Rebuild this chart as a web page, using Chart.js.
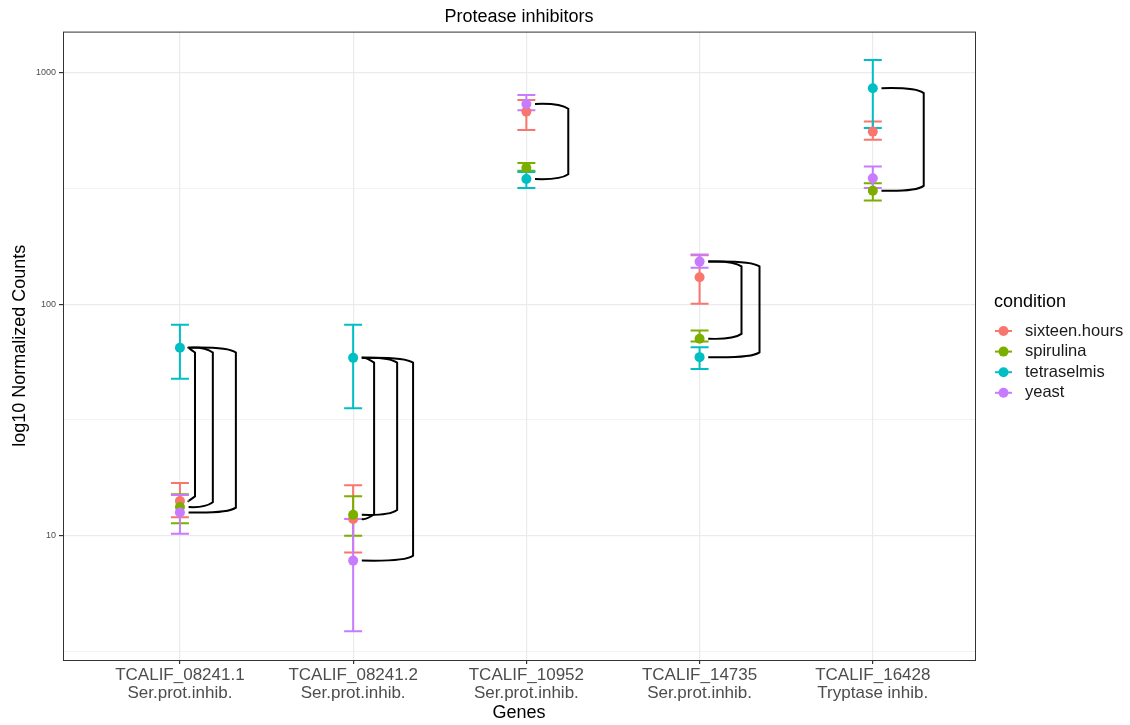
<!DOCTYPE html>
<html>
<head>
<meta charset="utf-8">
<script src="https://cdn.jsdelivr.net/npm/chart.js@4.4.0/dist/chart.umd.min.js"></script>
<style>
  html, body { margin: 0; padding: 0; background: #fff; }
  #wrap { width: 1130px; height: 725px; position: relative; }
</style>
</head>
<body>
<div id="wrap"><canvas id="chart"></canvas></div>
<script>
const genes = ['TCALIF_08241.1', 'TCALIF_08241.2', 'TCALIF_10952', 'TCALIF_14735', 'TCALIF_16428'];
const descs = ['Ser.prot.inhib.', 'Ser.prot.inhib.', 'Ser.prot.inhib.', 'Ser.prot.inhib.', 'Tryptase inhib.'];

const conditions = ['sixteen.hours', 'spirulina', 'tetraselmis', 'yeast'];
const colors = ['#F8766D', '#7CAE00', '#00BFC4', '#C77CFF'];

// mean, lower and upper error bar per gene
const sixteenMean = [14.1, 11.8, 681, 131, 558];
const sixteenLo   = [12.0, 8.45, 567, 100.5, 514];
const sixteenHi   = [16.9, 16.5, 764, 163, 617];

const spirulinaMean = [13.3, 12.3, 389, 71, 310];
const spirulinaLo   = [11.3, 10.0, 378, 69, 281];
const spirulinaHi   = [15.1, 14.8, 408, 77, 334];

const tetraMean = [64.9, 58.7, 348, 59.1, 859];
const tetraLo   = [47.7, 35.5, 318, 52.5, 578];
const tetraHi   = [81.5, 81.5, 373, 65.3, 1138];

const yeastMean = [12.6, 7.8, 735, 153, 351];
const yeastLo   = [10.2, 3.86, 690, 144, 318];
const yeastHi   = [15.0, 11.8, 803, 164, 394];

const means = [sixteenMean, spirulinaMean, tetraMean, yeastMean];
const lows = [sixteenLo, spirulinaLo, tetraLo, yeastLo];
const highs = [sixteenHi, spirulinaHi, tetraHi, yeastHi];

// significance brackets: gene index, from condition, to condition
const bracketGene = [0, 0, 0, 1, 1, 1, 2, 3, 3, 4];
const bracketFrom = [2, 2, 2, 2, 2, 2, 3, 3, 3, 2];
const bracketTo   = [0, 1, 3, 0, 1, 3, 2, 1, 2, 1];
const bracketStep = [0.087, 0.19, 0.323, 0.121, 0.254, 0.346, 0.242, 0.242, 0.346, 0.294];

const majorTicks = [10, 100, 1000];
const FONT = '"Liberation Sans", Arial, sans-serif';

function isMajor(v) {
  return majorTicks.some(m => Math.abs(m - v) < 1e-6);
}

const errorBarPlugin = {
  id: 'errorBars',
  beforeDatasetsDraw(chart) {
    const { ctx, scales: { x, y } } = chart;
    ctx.save();
    ctx.lineWidth = 2;
    for (let c = 0; c < conditions.length; c++) {
      ctx.strokeStyle = colors[c];
      for (let g = 0; g < genes.length; g++) {
        const px = x.getPixelForValue(g);
        const y1 = y.getPixelForValue(lows[c][g]);
        const y2 = y.getPixelForValue(highs[c][g]);
        ctx.beginPath();
        ctx.moveTo(px, y1); ctx.lineTo(px, y2);
        ctx.moveTo(px - 9, y1); ctx.lineTo(px + 9, y1);
        ctx.moveTo(px - 9, y2); ctx.lineTo(px + 9, y2);
        ctx.stroke();
      }
    }
    ctx.restore();
  }
};

const bracketPlugin = {
  id: 'brackets',
  afterDatasetsDraw(chart) {
    const { ctx, scales: { x, y } } = chart;
    ctx.save();
    ctx.strokeStyle = '#000';
    ctx.lineWidth = 2;
    for (let i = 0; i < bracketGene.length; i++) {
      const g = bracketGene[i];
      const x0 = x.getPixelForValue(g + 0.05);
      const x1 = x.getPixelForValue(g + bracketStep[i]);
      const yA = y.getPixelForValue(means[bracketFrom[i]][g]);
      const yB = y.getPixelForValue(means[bracketTo[i]][g]);
      const top = Math.min(yA, yB), bot = Math.max(yA, yB);
      const r = 8;
      ctx.beginPath();
      ctx.moveTo(x0, top);
      ctx.quadraticCurveTo(x1 - r, top - 1, x1, top + r * 0.6);
      ctx.lineTo(x1, bot - r * 0.6);
      ctx.quadraticCurveTo(x1 - r, bot + 1, x0, bot);
      ctx.stroke();
    }
    ctx.restore();
  }
};

const frameLegendPlugin = {
  id: 'frameLegend',
  afterDraw(chart) {
    const { ctx, chartArea: a } = chart;
    ctx.save();
    ctx.strokeStyle = '#333';
    ctx.lineWidth = 1;
    ctx.strokeRect(a.left + 0.5, a.top + 0.5, a.right - a.left, a.bottom - a.top);

    // legend
    ctx.fillStyle = '#000';
    ctx.font = '18px ' + FONT;
    ctx.textBaseline = 'middle';
    ctx.fillText('condition', 994, 302);
    ctx.font = '16.5px ' + FONT;
    for (let c = 0; c < conditions.length; c++) {
      const ly = 331 + c * 20.6;
      ctx.strokeStyle = colors[c];
      ctx.fillStyle = colors[c];
      ctx.lineWidth = 2;
      ctx.beginPath();
      ctx.moveTo(995, ly); ctx.lineTo(1012, ly);
      ctx.stroke();
      ctx.beginPath();
      ctx.arc(1003.5, ly, 5, 0, Math.PI * 2);
      ctx.fill();
      ctx.fillStyle = '#1a1a1a';
      ctx.fillText(conditions[c], 1025, ly);
    }
    ctx.restore();
  }
};

const datasets = conditions.map((name, c) => ({
  label: name,
  data: means[c].map((v, g) => ({ x: g, y: v })),
  backgroundColor: colors[c],
  borderColor: colors[c],
  pointRadius: 5,
  pointBorderWidth: 0,
  pointHoverRadius: 5,
  showLine: false,
  order: conditions.length - c
}));

new Chart(document.getElementById('chart'), {
  type: 'scatter',
  data: { datasets },
  options: {
    responsive: true,
    maintainAspectRatio: false,
    animation: false,
    layout: { padding: { left: 4, right: 155, top: 0, bottom: 1 } },
    plugins: {
      legend: { display: false },
      tooltip: { enabled: false },
      title: {
        display: true,
        text: 'Protease inhibitors',
        fullSize: false,
        color: '#000',
        font: { family: FONT, size: 18, weight: 'normal' },
        padding: { top: 6, bottom: 4 }
      }
    },
    scales: {
      x: {
        type: 'linear',
        min: -0.675,
        max: 4.59,
        afterBuildTicks: s => { s.ticks = genes.map((_, i) => ({ value: i })); },
        afterFit: s => { s.height = 64; },
        ticks: {
          color: '#4d4d4d',
          font: { family: FONT, size: 17, lineHeight: 1.06 },
          padding: 2,
          maxRotation: 0,
          autoSkip: false,
          callback: v => [genes[v], descs[v]]
        },
        grid: { color: '#ebebeb', lineWidth: 1.2, tickColor: '#333', tickLength: 4 },
        border: { display: false },
        title: {
          display: true,
          text: 'Genes',
          color: '#000',
          font: { family: FONT, size: 18 },
          padding: { top: 0, bottom: 0 }
        }
      },
      y: {
        type: 'logarithmic',
        min: 2.9,
        max: 1510,
        afterBuildTicks: s => {
          s.ticks = [Math.sqrt(10), 10, 10 * Math.sqrt(10), 100, 100 * Math.sqrt(10), 1000].map(v => ({ value: v }));
        },
        afterFit: s => { s.width = 59; },
        ticks: {
          color: '#4d4d4d',
          font: { family: FONT, size: 9 },
          padding: 3,
          callback: v => isMajor(v) ? String(Math.round(v)) : ''
        },
        grid: {
          color: '#ebebeb',
          lineWidth: ctx => isMajor(ctx.tick.value) ? 1.2 : 0.6,
          tickColor: ctx => isMajor(ctx.tick.value) ? '#333' : 'rgba(0,0,0,0)',
          tickLength: 4
        },
        border: { display: false },
        title: {
          display: true,
          text: 'log10 Normalized Counts',
          color: '#000',
          font: { family: FONT, size: 18 },
          padding: { top: 5, bottom: 0 }
        }
      }
    }
  },
  plugins: [errorBarPlugin, bracketPlugin, frameLegendPlugin]
});
</script>
</body>
</html>
